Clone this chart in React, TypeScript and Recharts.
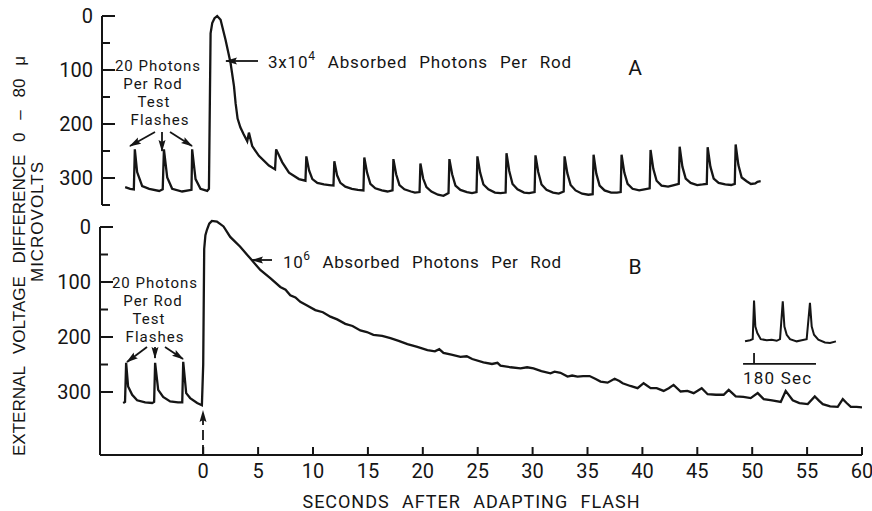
import React from 'react';
import { LineChart, Line, XAxis, YAxis, ReferenceLine } from 'recharts';

const INK = '#151515';
const FONT = "Roboto, 'DejaVu Sans', sans-serif";
const TITLE_FONT = "'Liberation Sans', Arial, sans-serif";

const X_MIN = -9.4;
const X_MAX = 60;
const xTicks = [0, 5, 10, 15, 20, 25, 30, 35, 40, 45, 50, 55, 60];
const yTicksA = [0, 50, 100, 150, 200, 250, 300, 350];
const yTicksB = [0, 50, 100, 150, 200, 250, 300];
const Y_DOMAIN_A = [-10, 350];
const Y_DOMAIN_B = [-20, 414.5];
const INSET_X_DOMAIN = [178.72, 187.84];
const INSET_Y_DOMAIN = [-40, 80];

// Panel A: 3x10^4 absorbed photons per rod (time s, response µV)
const traceA = [
  [-7.29, 317], [-6.84, 320], [-6.5, 321], [-6.41, 247], [-6.2, 289], [-5.74, 315], [-5.1, 320], [-4.19, 324],
  [-3.87, 321], [-3.76, 247], [-3.46, 299], [-3.01, 320], [-2.1, 325], [-1.25, 322], [-1.19, 247], [-0.88, 302],
  [-0.43, 320], [0.18, 324], [0.34, 320], [0.49, 32], [0.64, 13], [0.85, 4], [1.09, 0], [1.4, 7], [1.85, 44],
  [2.31, 87], [2.62, 130], [2.77, 162], [2.95, 190], [3.2, 206], [3.5, 219], [3.83, 232], [3.98, 216], [4.28, 241],
  [4.89, 259], [5.8, 277], [6.36, 284], [6.46, 247], [7.02, 271], [7.63, 290], [8.54, 302], [9.13, 305],
  [9.21, 260], [9.46, 286], [9.76, 302], [10.21, 309], [10.81, 312], [11.3, 313], [11.68, 314],
  [11.76, 269], [12.01, 295], [12.31, 309], [12.76, 316], [13.36, 320], [13.9, 322], [14.41, 323],
  [14.49, 262], [14.74, 290], [15.04, 311], [15.49, 319], [16.09, 323], [16.6, 325], [17.06, 323],
  [17.14, 265], [17.39, 293], [17.69, 313], [18.14, 321], [18.74, 325], [19.1, 327], [19.52, 326],
  [19.6, 273], [19.85, 301], [20.15, 317], [20.6, 325], [21.2, 331], [21.7, 333], [22.16, 328],
  [22.24, 265], [22.49, 293], [22.79, 314], [23.24, 322], [23.84, 326], [24.3, 328], [24.71, 326],
  [24.79, 260], [25.04, 290], [25.34, 312], [25.79, 321], [26.39, 327], [26.9, 328], [27.36, 327],
  [27.44, 254], [27.69, 287], [27.99, 311], [28.44, 321], [29.04, 327], [29.5, 328], [30.0, 326],
  [30.08, 258], [30.33, 289], [30.63, 312], [31.08, 322], [31.68, 327], [32.2, 329], [32.65, 325],
  [32.73, 260], [32.98, 291], [33.28, 313], [33.73, 323], [34.33, 329], [34.9, 331], [35.29, 330],
  [35.37, 257], [35.62, 292], [35.92, 314], [36.37, 323], [36.97, 327], [37.5, 327], [37.84, 326],
  [37.92, 257], [38.17, 290], [38.47, 311], [38.92, 320], [39.52, 323], [40.0, 321], [40.48, 319],
  [40.56, 248], [40.81, 283], [41.11, 305], [41.56, 314], [42.16, 316], [42.7, 313], [43.13, 311],
  [43.21, 242], [43.46, 279], [43.76, 301], [44.21, 309], [44.81, 313], [45.3, 312], [45.68, 311],
  [45.76, 243], [46.01, 279], [46.31, 301], [46.76, 309], [47.36, 312], [47.9, 313], [48.23, 311],
  [48.31, 238], [48.56, 276], [48.86, 299], [49.31, 306], [49.7, 311], [50.1, 310], [50.3, 307], [50.59, 306],
];

// Panel B: 10^6 absorbed photons per rod
const traceB = [
  [-7.29, 320], [-7.12, 318], [-7.02, 247], [-6.84, 290], [-6.47, 305], [-6.02, 315], [-5.29, 319], [-4.65, 320],
  [-4.47, 318], [-4.38, 247], [-4.1, 296], [-3.65, 309], [-3.01, 317], [-2.3, 319], [-1.91, 319], [-1.82, 245],
  [-1.55, 302], [-1.19, 311], [-0.55, 320], [-0.12, 324], [0.0, 250], [0.09, 40], [0.2, 15], [0.34, 5],
  [0.55, -6], [0.79, -11], [1.25, -10], [1.85, -1], [2.46, 18], [3.37, 36], [4.28, 57], [5.2, 78], [6.11, 93],
  [7.02, 109], [7.5, 114], [7.93, 124], [8.4, 128], [8.84, 136], [9.5, 143], [10.21, 151], [10.9, 155],
  [11.58, 163], [12.2, 168], [12.94, 176], [13.6, 180], [14.31, 188], [14.9, 191], [15.5, 196], [16.3, 198],
  [17.05, 202], [17.8, 207], [18.6, 213], [19.5, 218], [20.42, 224], [21.1, 226], [21.5, 222], [21.88, 229],
  [22.6, 232], [23.43, 236], [24.0, 235], [24.5, 240], [25.52, 246], [26.3, 249], [26.8, 247], [27.07, 252],
  [28.0, 255], [28.9, 257], [29.5, 255], [30.08, 257], [30.8, 262], [31.63, 266], [32.0, 263], [32.54, 265],
  [33.18, 272], [33.6, 270], [34.09, 272], [34.6, 271], [35.19, 271], [35.7, 276], [36.19, 281], [36.83, 283],
  [37.47, 276], [37.9, 280], [38.2, 284], [38.9, 289], [39.56, 293], [40.11, 284], [40.75, 293], [41.3, 293],
  [41.93, 298], [42.4, 293], [42.84, 287], [43.48, 299], [44.1, 298], [44.67, 302], [45.4, 293], [45.94, 304],
  [46.7, 305], [47.4, 305], [47.86, 296], [48.5, 308], [49.2, 309], [49.86, 311], [50.5, 302], [51.05, 313],
  [51.8, 315], [52.6, 318], [53.05, 298], [53.69, 315], [54.3, 320], [55.06, 322], [55.7, 308], [56.1, 316],
  [56.43, 322], [57.1, 326], [57.79, 327], [58.25, 313], [58.6, 320], [58.98, 327], [59.5, 327], [60.0, 328],
];

// Inset: test flashes at 180 s (time s, response µV above baseline)
const insetTrace = [
  [179.18, 3], [179.64, 5], [179.88, 7], [180.0, 77], [180.12, 30], [180.3, 18], [180.61, 7], [181.16, 5],
  [181.61, 6], [182.07, 4], [182.37, 7], [182.62, 76], [182.77, 30], [182.98, 15], [183.28, 7], [183.89, 3],
  [184.35, 5], [184.8, 7], [185.1, 73], [185.26, 30], [185.47, 15], [185.86, 6], [186.47, 1], [186.93, 0],
  [187.47, 3],
];
const INSET_BAR = [179.0, 185.65];
const INSET_MARK = 180;

const toRows = (arr: number[][]) => arr.map(([t, v]) => ({ t, v }));
const dataA = toRows(traceA);
const dataB = toRows(traceB);
const dataInset = toRows(insetTrace);

const YTick = (props: any) => {
  const { x, y, payload } = props;
  const v = payload.value;
  const major = v % 100 === 0;
  return (
    <g>
      <line x1={x} y1={y} x2={x + (major ? 13 : 8)} y2={y} stroke={INK} strokeWidth={2} />
      {major && (
        <text x={x - 9} y={y} dy="0.36em" textAnchor="end" fontSize={20} fontFamily={FONT} fill={INK}>
          {v}
        </text>
      )}
    </g>
  );
};

const XTick = (props: any) => {
  const { x, y, payload } = props;
  return (
    <g>
      <line x1={x} y1={y} x2={x} y2={y - 8} stroke={INK} strokeWidth={2} />
      <text x={x} y={y + 23} textAnchor="middle" fontSize={20} fontFamily={FONT} fill={INK}>
        {payload.value}
      </text>
    </g>
  );
};

const lineProps = {
  type: 'linear' as const,
  dataKey: 'v',
  stroke: INK,
  strokeWidth: 2.3,
  dot: false,
  isAnimationActive: false,
};

const Arrow = ({ x1, y1, x2, y2, dash }: any) => (
  <line x1={x1} y1={y1} x2={x2} y2={y2} stroke={INK} strokeWidth={1.8}
    strokeDasharray={dash} markerEnd="url(#ah)" />
);

const StackNote = ({ lines }: any) => (
  <g>
    {lines.map((l: any, i: number) => (
      <text key={i} x={l[1]} y={l[2]} fontSize={15} textAnchor="middle" fontFamily={FONT} fill={INK}
        style={{ letterSpacing: 1 }}>{l[0]}</text>
    ))}
  </g>
);

export default function App() {
  const textStyle = { fontFamily: FONT, fill: INK } as any;
  return (
    <div style={{ position: 'fixed', left: 0, top: 0, width: 872, height: 511, background: '#fff', overflow: 'hidden' }}>
      {/* Panel B */}
      <div style={{ position: 'absolute', left: 0, top: 0 }}>
        <LineChart width={872} height={511} data={dataB} margin={{ top: 216, right: 10, bottom: 16, left: 40 }}>
          <XAxis dataKey="t" type="number" domain={[X_MIN, X_MAX]} ticks={xTicks}
            interval={0} tick={XTick} tickLine={false} tickSize={0} tickMargin={0} height={40}
            axisLine={{ stroke: INK, strokeWidth: 2 }} allowDataOverflow />
          <YAxis type="number" reversed domain={Y_DOMAIN_B} ticks={yTicksB} interval={0} tick={YTick}
            tickLine={false} tickSize={0} tickMargin={0} axisLine={false} width={60} allowDataOverflow />
          <ReferenceLine segment={[{ x: X_MIN, y: 0 }, { x: X_MIN, y: Y_DOMAIN_B[1] }]} stroke={INK} strokeWidth={2} ifOverflow="visible" />
          <Line {...lineProps} />
        </LineChart>
      </div>
      {/* Panel A */}
      <div style={{ position: 'absolute', left: 2, top: 0 }}>
        <LineChart width={862} height={215} data={dataA} margin={{ top: 10.6, right: 0, bottom: 10, left: 40 }}>
          <XAxis hide dataKey="t" type="number" domain={[X_MIN, X_MAX]} allowDataOverflow />
          <YAxis type="number" reversed domain={Y_DOMAIN_A} ticks={yTicksA} interval={0} tick={YTick}
            tickLine={false} tickSize={0} tickMargin={0} axisLine={false} width={60} allowDataOverflow />
          <ReferenceLine segment={[{ x: X_MIN, y: 0 }, { x: X_MIN, y: 350 }]} stroke={INK} strokeWidth={2} ifOverflow="visible" />
          <Line {...lineProps} />
        </LineChart>
      </div>
      {/* Inset */}
      <div style={{ position: 'absolute', left: 740, top: 290 }}>
        <LineChart width={100} height={76} data={dataInset} margin={{ top: 9, right: 0, bottom: 1, left: 0 }}>
          <XAxis hide dataKey="t" type="number" domain={INSET_X_DOMAIN} allowDataOverflow />
          <YAxis hide type="number" domain={INSET_Y_DOMAIN} width={0} allowDataOverflow />
          <ReferenceLine segment={[{ x: INSET_BAR[0], y: -38 }, { x: INSET_BAR[1], y: -38 }]} stroke={INK} strokeWidth={1.6} ifOverflow="visible" />
          <ReferenceLine segment={[{ x: INSET_MARK, y: -38 }, { x: INSET_MARK, y: -18 }]} stroke={INK} strokeWidth={1.8} ifOverflow="visible" />
          <Line {...lineProps} strokeWidth={2} />
        </LineChart>
      </div>
      {/* Annotations */}
      <svg width={872} height={511} style={{ position: 'absolute', left: 0, top: 0, pointerEvents: 'none' }}>
        <defs>
          <marker id="ah" viewBox="0 0 12 8" refX="11" refY="4" markerWidth="12" markerHeight="8"
            markerUnits="userSpaceOnUse" orient="auto">
            <path d="M0,0.5 L12,4 L0,7.5 L2,4 z" fill={INK} />
          </marker>
        </defs>

        <text transform="translate(19,256) rotate(-90)" textAnchor="middle" dominantBaseline="central"
          fontFamily={TITLE_FONT} fontSize={17} fill={INK} textLength={400} lengthAdjust="spacing"
          style={{ wordSpacing: 8 }}>
          EXTERNAL VOLTAGE DIFFERENCE 0 – 80 μ
        </text>
        <text transform="translate(37,222) rotate(-90)" textAnchor="middle" dominantBaseline="central"
          fontFamily={TITLE_FONT} fontSize={17} fill={INK} textLength={120} lengthAdjust="spacing">
          MICROVOLTS
        </text>

        {/* Panel A notes */}
        <StackNote lines={[['20 Photons', 158, 71], ['Per Rod', 153, 89], ['Test', 154, 107], ['Flashes', 160, 125]]} />
        <Arrow x1={155} y1={132} x2={130} y2={146} />
        <Arrow x1={162} y1={132} x2={162} y2={151} />
        <Arrow x1={170} y1={132} x2={192} y2={146} />
        <text x={268} y={68} fontSize={17} style={{ ...textStyle, letterSpacing: 0.8, wordSpacing: 7 }}>
          3x10<tspan dy={-8} fontSize={12}>4</tspan><tspan dy={8}> Absorbed Photons Per Rod</tspan>
        </text>
        <Arrow x1={258} y1={61} x2={226} y2={61} />
        <text x={635} y={75} fontSize={21} textAnchor="middle" style={textStyle}>A</text>

        {/* Panel B notes */}
        <StackNote lines={[['20 Photons', 155, 288], ['Per Rod', 153, 306], ['Test', 149, 324], ['Flashes', 155, 342]]} />
        <Arrow x1={147} y1={347} x2={127} y2={362} />
        <Arrow x1={155} y1={347} x2={155} y2={358} />
        <Arrow x1={165} y1={347} x2={183} y2={359} />
        <text x={283} y={268} fontSize={17} style={{ ...textStyle, letterSpacing: 0.6, wordSpacing: 7 }}>
          10<tspan dy={-8} fontSize={12}>6</tspan><tspan dy={8}> Absorbed Photons Per Rod</tspan>
        </text>
        <Arrow x1={272} y1={260} x2={252} y2={260} />
        <text x={635} y={274} fontSize={21} textAnchor="middle" style={textStyle}>B</text>
        <Arrow x1={203} y1={455} x2={203} y2={411} dash="10 5" />

        <text x={743} y={384} fontSize={17} style={{ ...textStyle, letterSpacing: 1.2 }}>180 Sec</text>

        <text x={471} y={508} fontSize={18} textAnchor="middle" textLength={337} lengthAdjust="spacing"
          style={{ ...textStyle, wordSpacing: 7 }}>
          SECONDS AFTER ADAPTING FLASH
        </text>
      </svg>
    </div>
  );
}
